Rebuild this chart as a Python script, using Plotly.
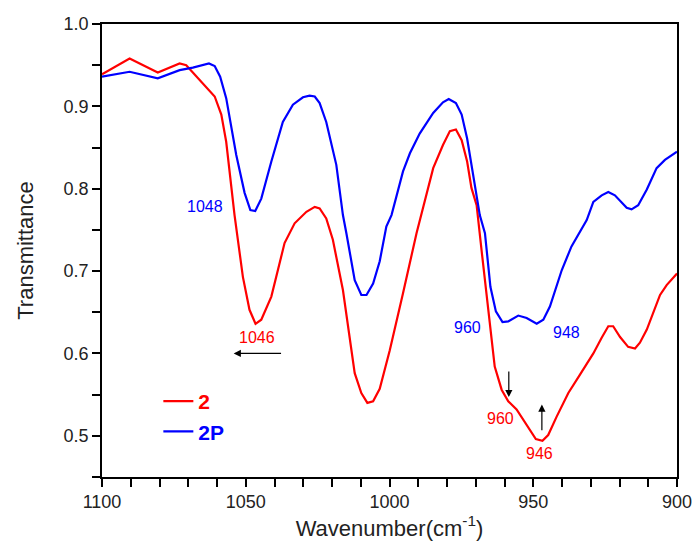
import plotly.graph_objects as go

# Sample "2" (red)
x_2 = [1100, 1090.4, 1080.6, 1073, 1070.7, 1064.9, 1060.8, 1058.5, 1056.8, 1053.9,
       1051, 1048.7, 1046.6, 1044.6, 1041.1, 1036.5, 1033, 1028.9, 1026, 1024.3,
       1022, 1019.7, 1016.2, 1012.1, 1009.8, 1007.7, 1005.7, 1003.4, 999.9, 995.3,
       990.6, 984.8, 981.4, 979, 976.9, 974.9, 973, 971.5, 969.7, 968,
       965.7, 963.4, 961, 958.7, 955.8, 952.3, 949.1, 946.8, 944.8, 941.9,
       937.8, 933.8, 929.1, 926.2, 923.9, 922.2, 919.8, 917, 914.6, 912.9,
       910.5, 905.9, 903.6, 900]
y_2 = [0.939, 0.958, 0.941, 0.952, 0.950, 0.928, 0.912, 0.890, 0.857, 0.768,
       0.693, 0.653, 0.636, 0.641, 0.669, 0.734, 0.758, 0.772, 0.778, 0.776,
       0.764, 0.738, 0.677, 0.576, 0.552, 0.540, 0.542, 0.557, 0.604, 0.673,
       0.746, 0.825, 0.853, 0.870, 0.872, 0.859, 0.833, 0.801, 0.780, 0.726,
       0.653, 0.584, 0.556, 0.542, 0.532, 0.513, 0.496, 0.494, 0.501, 0.523,
       0.552, 0.574, 0.600, 0.619, 0.633, 0.633, 0.620, 0.608, 0.606, 0.613,
       0.629, 0.671, 0.683, 0.697]

# Sample "2P" (blue)
x_2p = [1100, 1090.4, 1080.6, 1073, 1068.4, 1062.8, 1060.8, 1058.9, 1056.8, 1053.3,
        1050.4, 1048.4, 1046.7, 1044.6, 1041.1, 1037.1, 1033.6, 1030.1, 1027.8, 1026,
        1024.3, 1022, 1018.5, 1016.2, 1015, 1012.1, 1009.8, 1008, 1005.7, 1003.4,
        1001.1, 999.3, 995.3, 992.9, 989.5, 984.8, 981.4, 979.4, 976.9, 974.9,
        973, 970.9, 968.6, 966.8, 964.9, 963, 960.7, 958.7, 955.2, 952.3,
        948.8, 946.5, 944.2, 940.1, 936.7, 931.4, 929.1, 926.2, 923.9, 921.6,
        917.5, 915.8, 913.5, 910.5, 907.1, 904.2, 900]
y_2p = [0.936, 0.942, 0.934, 0.944, 0.947, 0.952, 0.949, 0.936, 0.910, 0.841,
        0.795, 0.774, 0.773, 0.788, 0.833, 0.881, 0.902, 0.911, 0.913, 0.912,
        0.904, 0.881, 0.829, 0.768, 0.746, 0.689, 0.671, 0.671, 0.685, 0.712,
        0.754, 0.768, 0.821, 0.843, 0.867, 0.892, 0.905, 0.909, 0.904, 0.890,
        0.861, 0.817, 0.768, 0.746, 0.681, 0.651, 0.638, 0.639, 0.646, 0.643,
        0.636, 0.641, 0.657, 0.701, 0.730, 0.762, 0.784, 0.792, 0.796, 0.792,
        0.777, 0.775, 0.780, 0.799, 0.825, 0.835, 0.845]

# Peak labels: (x, y, text, color)
label_x = [1064.3, 1046.2, 972.8, 938.6, 961.3, 947.7]
label_y = [0.778, 0.619, 0.631, 0.625, 0.5206, 0.478]
label_text = ["1048", "1046", "960", "948", "960", "946"]
label_color = ["#0000FF", "#FF0000", "#0000FF", "#0000FF", "#FF0000", "#FF0000"]

# Arrows: (tail x, tail y, head x, head y)
arrow_tail_x = [1037.2, 958.5, 947.0]
arrow_tail_y = [0.600, 0.580, 0.505]
arrow_head_x = [1054.2, 958.5, 947.0]
arrow_head_y = [0.600, 0.547, 0.538]

FONT = "Liberation Sans, Arial, sans-serif"

fig = go.Figure()
fig.add_trace(go.Scatter(x=x_2, y=y_2, mode="lines",
                         name="<b><span style='color:#FF0000'>2</span></b>",
                         line=dict(color="#FF0000", width=2.2)))
fig.add_trace(go.Scatter(x=x_2p, y=y_2p, mode="lines",
                         name="<b><span style='color:#0000FF'>2P</span></b>",
                         line=dict(color="#0000FF", width=2.2)))

annotations = []
for lx, ly, t, c in zip(label_x, label_y, label_text, label_color):
    annotations.append(dict(x=lx, y=ly, xref="x", yref="y", text=t, showarrow=False,
                            font=dict(family=FONT, size=16, color=c)))
for tx, ty, hx, hy in zip(arrow_tail_x, arrow_tail_y, arrow_head_x, arrow_head_y):
    annotations.append(dict(x=hx, y=hy, ax=tx, ay=ty, xref="x", yref="y",
                            axref="x", ayref="y", text="", showarrow=True,
                            arrowhead=2, arrowsize=1.2, arrowwidth=1.2,
                            arrowcolor="#000000", standoff=0, startstandoff=0))

axis_common = dict(showline=True, linecolor="black", linewidth=1.5, mirror=True,
                   ticks="outside", ticklen=8, tickwidth=1.5, tickcolor="black",
                   showgrid=False, zeroline=False, automargin=False,
                   tickfont=dict(family=FONT, size=18, color="#222222"))

fig.update_layout(
    width=697, height=553,
    margin=dict(l=102, r=20, t=24, b=76, autoexpand=False),
    plot_bgcolor="white", paper_bgcolor="white",
    font=dict(family=FONT, color="#222222"),
    showlegend=True,
    legend=dict(x=0.098, y=0.212, xanchor="left", yanchor="top",
                bgcolor="rgba(0,0,0,0)", font=dict(family=FONT, size=21),
                tracegroupgap=0),
    annotations=annotations,
)
fig.update_xaxes(range=[1100, 900], dtick=50, tick0=900,
                 minor=dict(dtick=10, ticks="outside", ticklen=8, tickwidth=1.5,
                            tickcolor="black"),
                 title=dict(text="Wavenumber(cm<sup>-1</sup>)",
                            font=dict(family=FONT, size=22, color="#222222"),
                            standoff=6),
                 **axis_common)
fig.update_yaxes(range=[0.45, 1.0], dtick=0.1, tick0=0.5, tickformat=".1f",
                 minor=dict(dtick=0.05, ticks="outside", ticklen=8, tickwidth=1.5,
                            tickcolor="black"),
                 title=dict(text="Transmittance",
                            font=dict(family=FONT, size=22, color="#222222"),
                            standoff=24),
                 **axis_common)

fig.write_html("out.html", config={"displayModeBar": False},
               post_script="document.body.style.margin='0';document.body.style.overflow='hidden';")
